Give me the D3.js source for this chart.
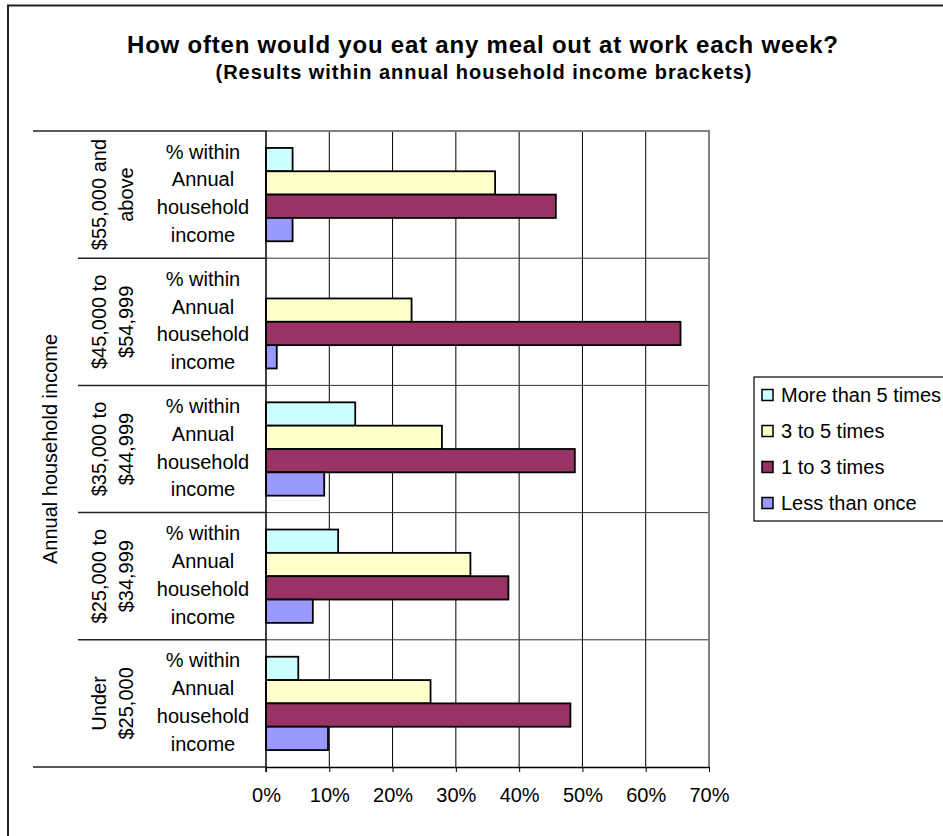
<!DOCTYPE html>
<html>
<head>
<meta charset="utf-8">
<script src="https://cdn.jsdelivr.net/npm/d3@7"></script>
<style>
  html, body { margin: 0; padding: 0; background: #fff; }
  svg { display: block; font-family: "Liberation Sans", Arial, sans-serif; }
</style>
</head>
<body>
<svg id="chart" width="943" height="836"></svg>
<script>
// Income brackets (top to bottom) and how each label wraps
const categories = ["$55,000 and above", "$45,000 to $54,999", "$35,000 to $44,999", "$25,000 to $34,999", "Under $25,000"];
const categoryLines = [["$55,000 and", "above"], ["$45,000 to", "$54,999"], ["$35,000 to", "$44,999"], ["$25,000 to", "$34,999"], ["Under", "$25,000"]];
const measureLines = ["% within", "Annual", "household", "income"];

// Frequency series (percent within bracket)
const series = ["More than 5 times", "3 to 5 times", "1 to 3 times", "Less than once"];
const moreThan5 = [4.2, 0, 14.1, 11.4, 5.1];
const threeTo5 = [36.2, 23.0, 27.8, 32.3, 26.0];
const oneTo3 = [45.8, 65.5, 48.8, 38.3, 48.1];
const lessThanOnce = [4.2, 1.7, 9.2, 7.4, 9.8];
const seriesColors = ["#CCFFFF", "#FFFFCC", "#993366", "#9999FF"];

const tickValues = [0, 10, 20, 30, 40, 50, 60, 70];
const tickLabels = ["0%", "10%", "20%", "30%", "40%", "50%", "60%", "70%"];

const title = "How often would you eat any meal out at work each week?";
const subtitle = "(Results within annual household income brackets)";
const axisTitle = "Annual household income";

const values = [moreThan5, threeTo5, oneTo3, lessThanOnce];

const svg = d3.select("#chart");

// Outer chart frame (runs past the right and bottom edges)
svg.append("rect")
  .attr("x", 8).attr("y", 5.5).attr("width", 1100).attr("height", 1000)
  .attr("fill", "#fff").attr("stroke", "#222").attr("stroke-width", 2);

// Plot geometry
const plot = { left: 266, right: 709, top: 131, bottom: 767 };

const x = d3.scaleLinear().domain([0, 70]).range([plot.left, plot.right]);
const y = d3.scaleBand().domain(categories).range([plot.top, plot.bottom]).padding(0);
const ySub = d3.scaleBand().domain(series).range([0, y.bandwidth()]).paddingInner(0).paddingOuter(0.726);

// Titles
svg.append("text").attr("x", 482.5).attr("y", 53).attr("text-anchor", "middle")
  .attr("font-size", 24).attr("font-weight", "bold")
  .attr("textLength", 711).attr("lengthAdjust", "spacing").text(title);
svg.append("text").attr("x", 483.5).attr("y", 79).attr("text-anchor", "middle")
  .attr("font-size", 20).attr("font-weight", "bold")
  .attr("textLength", 536).attr("lengthAdjust", "spacing").text(subtitle);

// Vertical gridlines
svg.append("g").selectAll("line").data(tickValues.slice(1, -1)).join("line")
  .attr("x1", d => x(d)).attr("x2", d => x(d))
  .attr("y1", plot.top).attr("y2", plot.bottom)
  .attr("stroke", "#000").attr("stroke-width", 1);

// Horizontal category gridlines
svg.append("g").selectAll("line").data(categories.slice(1)).join("line")
  .attr("x1", plot.left).attr("x2", plot.right)
  .attr("y1", d => y(d)).attr("y2", d => y(d))
  .attr("stroke", "#333").attr("stroke-width", 1);

// Plot area border (top and right)
svg.append("path")
  .attr("d", `M${plot.left},${plot.top}H${plot.right}V${plot.bottom}`)
  .attr("fill", "none").attr("stroke", "#808080").attr("stroke-width", 2);

// Bars
const barGroups = svg.append("g").selectAll("g").data(categories).join("g")
  .attr("transform", d => `translate(0,${y(d)})`);
barGroups.selectAll("rect")
  .data((c, ci) => series.map((s, si) => ({ s, si, v: values[si][ci] })).filter(d => d.v > 0))
  .join("rect")
  .attr("x", x(0))
  .attr("y", d => ySub(d.s))
  .attr("width", d => x(d.v) - x(0))
  .attr("height", ySub.bandwidth())
  .attr("fill", d => seriesColors[d.si])
  .attr("stroke", "#000").attr("stroke-width", 1.8);

// X axis
const xAxis = d3.axisBottom(x).tickValues(tickValues).tickFormat((d, i) => tickLabels[i])
  .tickSizeInner(5).tickSizeOuter(0).tickPadding(16);
const gx = svg.append("g").attr("transform", `translate(0,${plot.bottom})`).call(xAxis);
gx.select(".domain").attr("stroke", "#000").attr("stroke-width", 1.5);
gx.selectAll(".tick line").attr("stroke", "#000");
gx.selectAll(".tick text").attr("font-size", 20).attr("fill", "#000")
  .attr("font-family", "'Liberation Sans', Arial, sans-serif");

// Category axis line
svg.append("line").attr("x1", plot.left).attr("x2", plot.left)
  .attr("y1", plot.top).attr("y2", plot.bottom + 5)
  .attr("stroke", "#000").attr("stroke-width", 1.5);

// Left label table: outer lines and bracket separators
svg.append("g").selectAll("line").data([plot.top, plot.bottom]).join("line")
  .attr("x1", 33).attr("x2", plot.left).attr("y1", d => d).attr("y2", d => d)
  .attr("stroke", "#222").attr("stroke-width", 1.5);
svg.append("g").selectAll("line").data(categories.slice(1)).join("line")
  .attr("x1", 78).attr("x2", plot.left).attr("y1", d => y(d)).attr("y2", d => y(d))
  .attr("stroke", "#222").attr("stroke-width", 1.5);

// Bracket labels (rotated, two lines) and measure labels
const catLabel = svg.append("g").selectAll("g").data(categories).join("g");
catLabel.each(function (c, ci) {
  const g = d3.select(this);
  const cy = y(c) + y.bandwidth() / 2;
  const t = g.append("text")
    .attr("transform", `translate(106,${cy}) rotate(-90)`)
    .attr("text-anchor", "middle").attr("font-size", 20);
  categoryLines[ci].forEach((line, li) => {
    t.append("tspan").attr("x", 0).attr("y", li * 27).text(line);
  });
  const m = g.append("text").attr("text-anchor", "middle").attr("font-size", 20);
  measureLines.forEach((line, li) => {
    m.append("tspan").attr("x", 203).attr("y", cy - 36 + li * 27.8).text(line);
  });
});

// Axis title
svg.append("text")
  .attr("transform", `translate(57,${(plot.top + plot.bottom) / 2}) rotate(-90)`)
  .attr("text-anchor", "middle").attr("font-size", 20).text(axisTitle);

// Legend
const legend = svg.append("g").attr("transform", "translate(754,377)");
legend.append("rect").attr("x", 0).attr("y", 0).attr("width", 220).attr("height", 144)
  .attr("fill", "#fff").attr("stroke", "#000").attr("stroke-width", 1.2);
const rowY = d3.scalePoint().domain(series).range([18, 126]);
const items = legend.selectAll("g.item").data(series).join("g").attr("class", "item")
  .attr("transform", d => `translate(0,${rowY(d)})`);
items.append("rect").attr("x", 8).attr("y", -5.5).attr("width", 11).attr("height", 11)
  .attr("fill", (d, i) => seriesColors[i]).attr("stroke", "#000").attr("stroke-width", 1.5);
items.append("text").attr("x", 27).attr("y", 7).attr("font-size", 20).text(d => d);
</script>
</body>
</html>
